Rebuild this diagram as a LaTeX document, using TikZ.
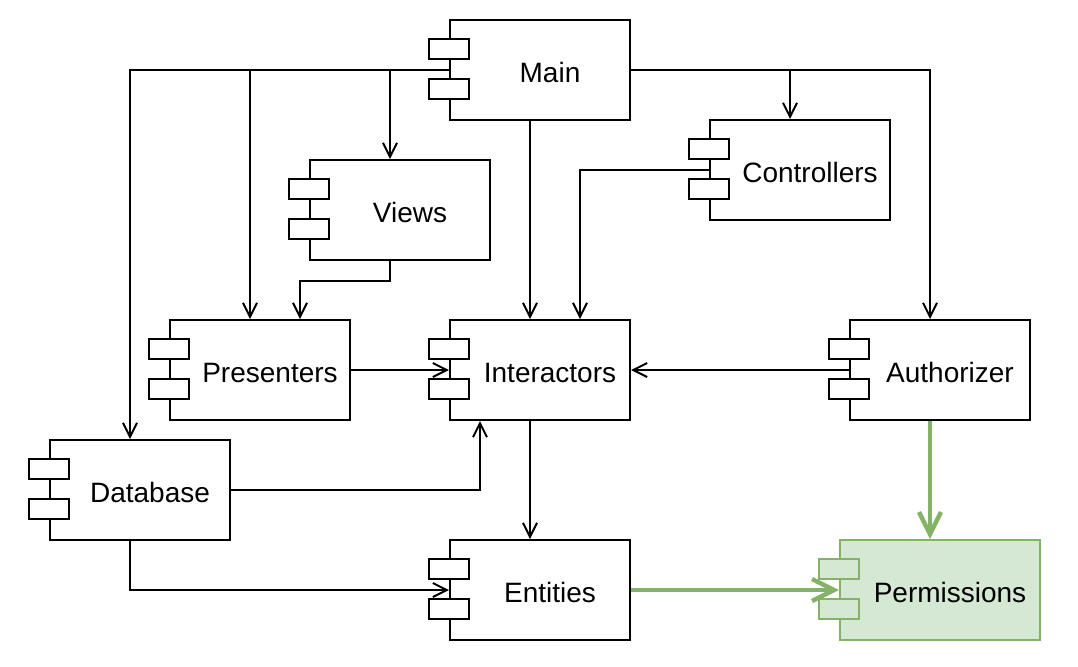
\documentclass[tikz,border=0pt]{standalone}
\usepackage{fontspec}
\setmainfont{Liberation Sans}
\usetikzlibrary{arrows.meta}
\definecolor{permgreen}{RGB}{130,179,102}
\definecolor{permfill}{RGB}{213,232,212}

\begin{document}
\begin{tikzpicture}[x=0.5pt, y=-0.5pt,
  comp/.style={draw, line width=1pt, fill=white, minimum width=90pt, minimum height=50pt,
    inner sep=0pt, text height=12pt, text depth=0pt, font=\fontsize{14pt}{16pt}\selectfont,
    execute at begin node={\hspace*{10pt}}},
  tab/.style={draw, line width=1pt, fill=white},
  dep/.style={line width=1pt, -{Straight Barb[length=7pt,width=7pt]}},
  uses/.style={draw=permgreen, line width=2.2pt, -{Straight Barb[length=11pt,width=11pt]}}]
\useasboundingbox (0,0) rectangle (1078,666);

% Components
\node[comp] (main) at (540,70) {Main};
\node[comp] (views) at (400,210) {Views};
\node[comp] (ctrl) at (800,170) {Controllers};
\node[comp] (pres) at (260,370) {Presenters};
\node[comp] (inter) at (540,370) {Interactors};
\node[comp] (auth) at (940,370) {Authorizer};
\node[comp] (db) at (140,490) {Database};
\node[comp] (ent) at (540,590) {Entities};
\node[comp, draw=permgreen, fill=permfill, minimum width=100pt] (perm) at (940,590) {Permissions};

% Dependencies from Main
\draw[dep] (main.west) -| ([xshift=-5pt]db.north);
\draw[dep] (main.west) -| ([xshift=-5pt]pres.north);
\draw[dep] (main.west) -| ([xshift=-5pt]views.north);
\draw[dep] (main.east) -| ([xshift=-5pt]auth.north);
\draw[dep] (main.east) -| ([xshift=-5pt]ctrl.north);
\draw[dep] ([xshift=-5pt]main.south) -- ([xshift=-5pt]inter.north);

% Other dependencies
\draw[dep] (ctrl.west) -| ([xshift=20pt]inter.north);
\draw[dep] ([xshift=-5pt]views.south) -- ++(0,20) -| ([xshift=20pt]pres.north);
\draw[dep] (pres.east) -- (inter.west);
\draw[dep] (auth.west) -- (inter.east);
\draw[dep] (db.east) -| ([xshift=-30pt]inter.south);
\draw[dep] ([xshift=-5pt]db.south) |- (ent.west);
\draw[dep] ([xshift=-5pt]inter.south) -- ([xshift=-5pt]ent.north);

% Permissions
\draw[uses] (ent.east) -- (perm.west);
\draw[uses] ([xshift=-5pt]auth.south) -- ([xshift=-5pt]perm.north);

% Tabs
\foreach \n in {main,views,ctrl,pres,inter,auth,db,ent} {
  \draw[tab] ([xshift=-10pt,yshift=-10pt]\n.north west) rectangle ++(20pt,-10pt);
  \draw[tab] ([xshift=-10pt,yshift=-30pt]\n.north west) rectangle ++(20pt,-10pt);
}
\draw[tab, draw=permgreen, fill=permfill] ([xshift=-10pt,yshift=-10pt]perm.north west) rectangle ++(20pt,-10pt);
\draw[tab, draw=permgreen, fill=permfill] ([xshift=-10pt,yshift=-30pt]perm.north west) rectangle ++(20pt,-10pt);
\end{tikzpicture}
\end{document}
